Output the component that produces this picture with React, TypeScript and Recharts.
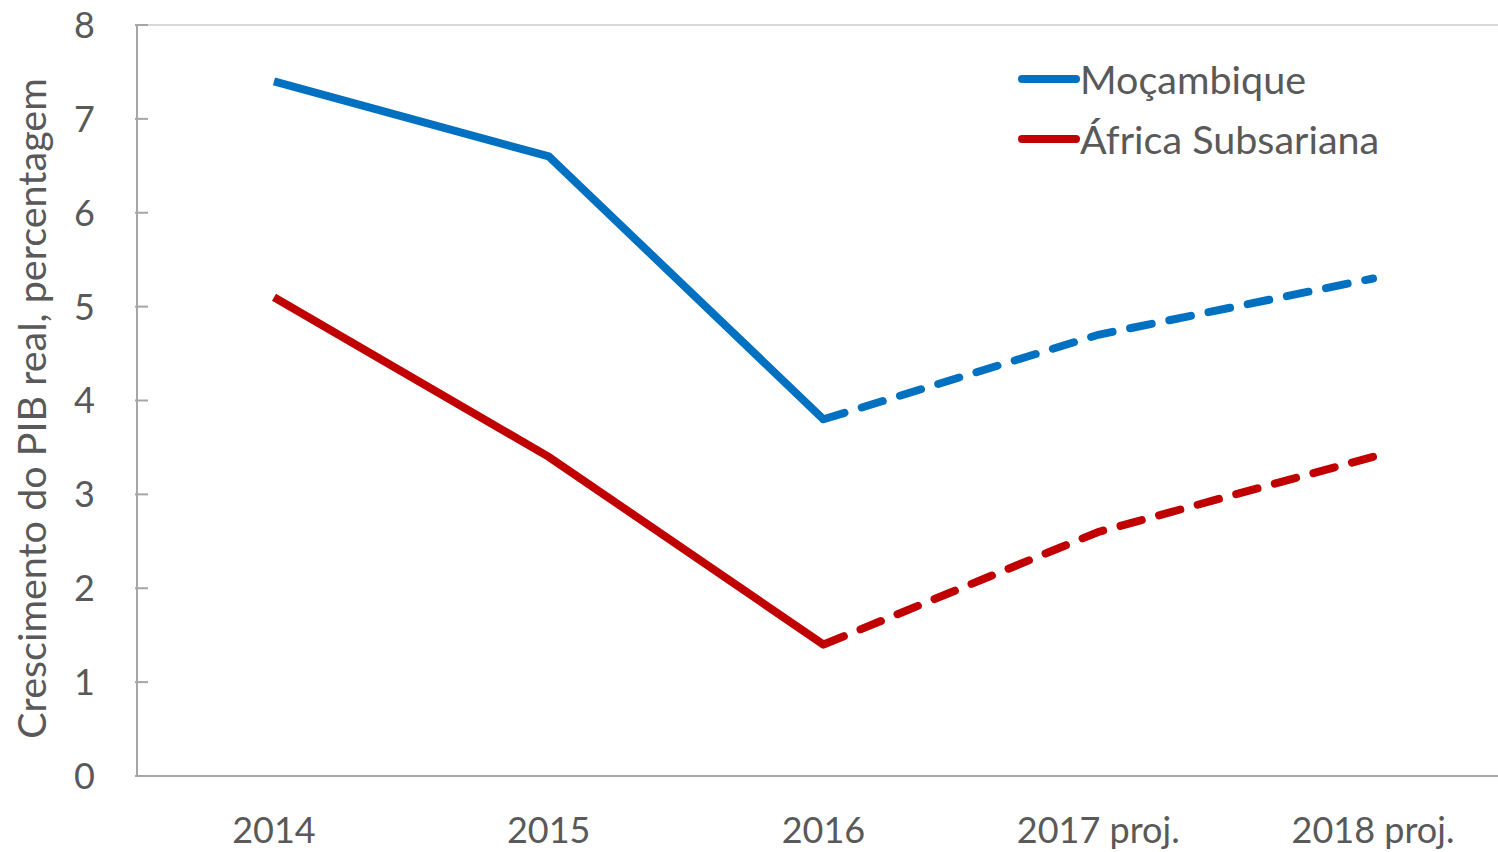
import React from 'react'
import { LineChart, Line, XAxis, YAxis, ReferenceLine } from 'recharts'

const categories = ['2014', '2015', '2016', '2017 proj.', '2018 proj.']
const mocambiqueActual = [7.4, 6.6, 3.8, null, null]
const mocambiqueProj = [null, null, 3.8, 4.7, 5.3]
const africaActual = [5.1, 3.4, 1.4, null, null]
const africaProj = [null, null, 1.4, 2.6, 3.4]
const yTicks = [0, 1, 2, 3, 4, 5, 6, 7, 8]

const BLUE = '#0070C0'
const RED = '#C00000'
const TEXT = '#595959'
const FONT = 'Lato, "Open Sans", sans-serif'

const data = categories.map((c, i) => ({
  year: c,
  mozA: mocambiqueActual[i],
  mozP: mocambiqueProj[i],
  afrA: africaActual[i],
  afrP: africaProj[i],
}))

const legendItems = [
  { name: 'Moçambique', color: BLUE },
  { name: 'África Subsariana', color: RED },
]

// y ticks point inwards, like the original
const YTick = (props: any) => {
  const { x, y, payload } = props
  return (
    <g>
      <line x1={x} x2={x + 13} y1={y} y2={y} stroke="#a6a6a6" strokeWidth={2} />
      <text x={x - 40} y={y} dy="0.36em" textAnchor="end" fill={TEXT} fontSize={36} fontFamily={FONT}>
        {payload.value}
      </text>
    </g>
  )
}

export default function App() {
  return (
    <div style={{ position: 'absolute', left: 0, top: 0, width: 1498, height: 852, overflow: 'hidden', background: '#fff' }}>
      <LineChart
        width={1510}
        height={852}
        data={data}
        margin={{ top: 25, right: 0, bottom: 0, left: 0 }}
      >
        <ReferenceLine y={8} stroke="#d9d9d9" strokeWidth={2} />
        <XAxis
          dataKey="year"
          height={76}
          tickLine={false}
          tickSize={0}
          tickMargin={41}
          padding={{ left: 137, right: 137 }}
          axisLine={{ stroke: '#a6a6a6', strokeWidth: 2 }}
          tick={{ fill: TEXT, fontSize: 36, fontFamily: FONT }}
          interval={0}
        />
        <YAxis
          width={137}
          domain={[0, 8]}
          ticks={yTicks}
          tickSize={0}
          tickLine={false}
          axisLine={{ stroke: '#a6a6a6', strokeWidth: 2 }}
          tick={<YTick />}
          label={{
            value: 'Crescimento do PIB real, percentagem',
            angle: -90,
            position: 'insideLeft',
            dx: 27,
            dy: 8,
            style: { textAnchor: 'middle', fill: TEXT, fontSize: 39.5, fontFamily: FONT },
          }}
        />
        <Line dataKey="afrA" stroke={RED} strokeWidth={8} dot={false} isAnimationActive={false} />
        <Line dataKey="afrP" stroke={RED} strokeWidth={8} strokeDasharray="22 18" strokeLinecap="round" dot={false} isAnimationActive={false} />
        <Line dataKey="mozA" stroke={BLUE} strokeWidth={8} dot={false} isAnimationActive={false} />
        <Line dataKey="mozP" stroke={BLUE} strokeWidth={8} strokeDasharray="22 18" strokeLinecap="round" dot={false} isAnimationActive={false} />
      </LineChart>
      <div style={{ position: 'absolute', left: 1014, top: 49, fontFamily: FONT, fontSize: 39.5, color: TEXT, lineHeight: '60px' }}>
        {legendItems.map(it => (
          <div key={it.name} style={{ display: 'flex', alignItems: 'center', height: 60, whiteSpace: 'nowrap' }}>
            <svg width={66} height={10}>
              <line x1={8} x2={62} y1={5} y2={5} stroke={it.color} strokeWidth={8} strokeLinecap="round" />
            </svg>
            <span>{it.name}</span>
          </div>
        ))}
      </div>
    </div>
  )
}
